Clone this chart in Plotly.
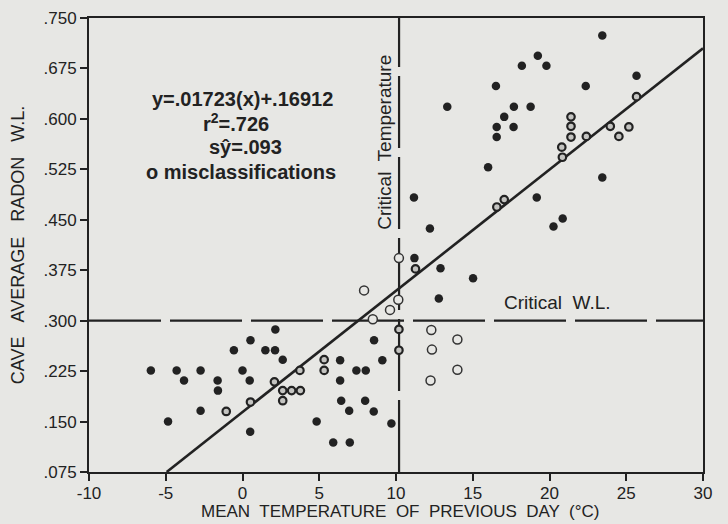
import plotly.graph_objects as go

# ---- data ----
filled_x = [-5.97, -4.85, -4.29, -3.81, -2.73, -2.73, -1.62, -1.60, -0.56, 0.00, 0.47, 0.52, 0.50,
            1.49, 2.12, 2.14, 2.62, 4.83, 5.91, 6.36, 6.36, 6.43, 6.95, 6.99, 7.42, 7.99, 8.03,
            8.55, 8.57, 9.11, 9.70,
            11.17, 11.20, 12.21, 12.90, 12.79, 13.34, 15.02, 16.00, 16.51, 16.56, 16.56, 17.05,
            17.66, 17.68, 18.20, 18.77, 19.24, 19.80, 19.17, 20.26, 20.86, 22.36, 23.44, 23.44, 25.67]
filled_y = [0.226, 0.150, 0.226, 0.211, 0.226, 0.166, 0.211, 0.196, 0.256, 0.226, 0.211, 0.271, 0.135,
            0.256, 0.256, 0.287, 0.242, 0.150, 0.119, 0.241, 0.211, 0.181, 0.166, 0.119, 0.226, 0.181, 0.226,
            0.165, 0.271, 0.241, 0.147,
            0.483, 0.393, 0.437, 0.378, 0.333, 0.618, 0.363, 0.528, 0.649, 0.588, 0.573, 0.603,
            0.588, 0.618, 0.679, 0.618, 0.694, 0.679, 0.483, 0.440, 0.452, 0.649, 0.724, 0.513, 0.664]

ring_x = [2.08, 0.52, 3.74, 5.32, 5.32, 10.19, 10.19, 2.62, 3.20, 3.77, 2.62, -1.06,
          11.27, 16.57, 17.05, 21.40, 21.40, 21.40, 20.80, 20.84, 22.40, 23.96, 25.17, 24.52, 25.67]
ring_y = [0.209, 0.179, 0.226, 0.242, 0.226, 0.287, 0.256, 0.196, 0.196, 0.196, 0.181, 0.165,
          0.377, 0.469, 0.480, 0.603, 0.589, 0.573, 0.558, 0.543, 0.574, 0.589, 0.588, 0.574, 0.633]

mis_x = [7.92, 8.49, 9.61, 10.15, 10.19, 12.30, 14.00, 12.34, 14.00, 12.25]
mis_y = [0.345, 0.302, 0.316, 0.331, 0.393, 0.286, 0.272, 0.257, 0.227, 0.211]

reg_x = [-4.94, 30.0]
reg_y = [0.075, 0.705]

critical_temp = 10.2
critical_wl = 0.300

x_ticks = [-10, -5, 0, 5, 10, 15, 20, 25, 30]
x_tick_labels = ["-10", "-5", "0", "5", "10", "15", "20", "25", "30"]
y_ticks = [0.075, 0.150, 0.225, 0.300, 0.375, 0.450, 0.525, 0.600, 0.675, 0.750]
y_tick_labels = [".075", ".150", ".225", ".300", ".375", ".450", ".525", ".600", ".675", ".750"]

INK = "#222222"
BG = "#e7e7e4"
FONT = "Liberation Sans Narrow, Liberation Sans, Arial, sans-serif"

fig = go.Figure()

fig.add_trace(go.Scatter(x=reg_x, y=reg_y, mode="lines",
                         line=dict(color=INK, width=2.6), showlegend=False, hoverinfo="skip"))
fig.add_trace(go.Scatter(x=filled_x, y=filled_y, mode="markers",
                         marker=dict(color=INK, size=8.5, line=dict(width=0)), showlegend=False))
fig.add_trace(go.Scatter(x=ring_x, y=ring_y, mode="markers",
                         marker=dict(symbol="circle", color="#c4c4c1", size=7.5,
                                     line=dict(color=INK, width=2.2)), showlegend=False))
fig.add_trace(go.Scatter(x=mis_x, y=mis_y, mode="markers",
                         marker=dict(symbol="circle", color=BG, size=9,
                                     line=dict(color="#333333", width=1.5)), showlegend=False))

fig.add_shape(type="line", xref="x", yref="y", x0=critical_temp, x1=critical_temp,
              y0=0.075, y1=0.750, line=dict(color=INK, width=2.2, dash="72px,9px"), layer="below")
fig.add_shape(type="line", xref="x", yref="y", x0=-10, x1=30,
              y0=critical_wl, y1=critical_wl, line=dict(color=INK, width=2.4, dash="72px,9px"), layer="below")

bold = dict(family="Liberation Sans, Arial, sans-serif", size=20, color=INK)
fig.add_annotation(x=0.0, y=0.630, xref="x", yref="y", text="<b>y=.01723(x)+.16912</b>",
                   showarrow=False, font=bold)
fig.add_annotation(x=-0.4, y=0.594, xref="x", yref="y", text="<b>r<sup>2</sup>=.726</b>",
                   showarrow=False, font=bold)
fig.add_annotation(x=0.2, y=0.558, xref="x", yref="y", text="<b>sŷ=.093</b>",
                   showarrow=False, font=bold)
fig.add_annotation(x=-0.1, y=0.521, xref="x", yref="y", text="<b>o misclassifications</b>",
                   showarrow=False, font=bold)

fig.add_annotation(x=9.28, y=0.566, xref="x", yref="y", text="Critical  Temperature",
                   textangle=-90, showarrow=False, font=dict(family=FONT, size=19, color=INK))
fig.add_annotation(x=20.55, y=0.327, xref="x", yref="y", text="Critical  W.L.",
                   showarrow=False, font=dict(family=FONT, size=19, color=INK))

# x-axis title placed in the bottom margin
fig.add_annotation(x=0.507, y=-0.113, xref="paper", yref="paper", yanchor="bottom",
                   text="MEAN  TEMPERATURE  OF  PREVIOUS  DAY  (°C)", showarrow=False,
                   font=dict(family=FONT, size=17, color=INK))

fig.update_xaxes(range=[-10, 30], tickvals=x_ticks, ticktext=x_tick_labels, ticks="outside",
                 ticklen=7, tickwidth=2, automargin=False, ticklabelstandoff=-2,
                 tickcolor=INK, showline=True, linecolor=INK, linewidth=2, mirror=True,
                 showgrid=False, zeroline=False,
                 tickfont=dict(family=FONT, size=17, color=INK))
fig.update_yaxes(range=[0.075, 0.750], tickvals=y_ticks, ticktext=y_tick_labels, ticks="outside",
                 ticklen=7, tickwidth=2, tickcolor=INK, showline=True, linecolor=INK, linewidth=2,
                 mirror=True, showgrid=False, zeroline=False, automargin=False,
                 tickfont=dict(family=FONT, size=17, color=INK),
                 title=dict(text="CAVE   AVERAGE   RADON   W.L.",
                            font=dict(family=FONT, size=18, color=INK), standoff=14))

fig.update_layout(width=728, height=524, margin=dict(l=89, r=25, t=18, b=52),
                  paper_bgcolor=BG, plot_bgcolor=BG, showlegend=False)

fig.write_html("out.html", config={"displayModeBar": False},
               post_script="document.body.style.margin='0';document.body.style.background='%s';" % BG)
